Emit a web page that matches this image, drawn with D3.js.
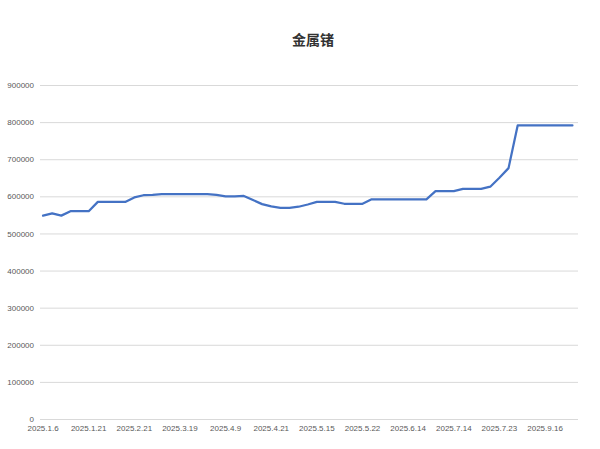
<!DOCTYPE html>
<html>
<head>
<meta charset="utf-8">
<script src="https://cdn.jsdelivr.net/npm/d3@7"></script>
<style>
  html, body { margin: 0; padding: 0; background: #ffffff; }
  svg { display: block; }
</style>
</head>
<body>
<svg id="chart" width="600" height="449"></svg>
<script>
// ---- data ----
const title = "金属锗";
const tickLabels = ["2025.1.6", "2025.1.21", "2025.2.21", "2025.3.19", "2025.4.9", "2025.4.21",
                    "2025.5.15", "2025.5.22", "2025.6.14", "2025.7.14", "2025.7.23", "2025.9.16"];
const labelEvery = 5;
const values = [
  548000, 554000, 548000, 560000, 560000, 560000, 585000, 585000, 585000, 585000,
  597000, 603000, 604000, 606000, 606000, 606000, 606000, 606000, 606000, 604000,
  600000, 600000, 601000, 590000, 579000, 573000, 569000, 569000, 572000, 578000,
  585000, 585000, 585000, 580000, 580000, 580000, 592000, 592000, 592000, 592000,
  592000, 592000, 592000, 614000, 614000, 614000, 620000, 620000, 620000, 626000,
  650000, 676000, 791000, 791000, 791000, 791000, 791000, 791000, 791000
];
const yTicks = [0, 100000, 200000, 300000, 400000, 500000, 600000, 700000, 800000, 900000];

// ---- layout ----
const svg = d3.select("#chart");
const plot = { left: 40, right: 578, top: 85, bottom: 419 };

const x = d3.scaleBand()
  .domain(values.map((d, i) => i))
  .range([38.5, 577])
  .paddingInner(0).paddingOuter(0);

const y = d3.scaleLinear().domain([0, 900000]).range([plot.bottom, plot.top]);

// title
svg.append("text")
  .attr("x", 313).attr("y", 45)
  .attr("text-anchor", "middle")
  .attr("font-family", "'Noto Sans CJK SC', sans-serif")
  .attr("font-weight", "bold")
  .attr("font-size", 14)
  .attr("fill", "#333333")
  .text(title);

// y axis with gridlines
const yAxis = svg.append("g")
  .attr("transform", `translate(${plot.left},0)`)
  .call(d3.axisLeft(y).tickValues(yTicks).tickSize(-(plot.right - plot.left)).tickPadding(6).tickFormat(d => String(d)));
yAxis.select(".domain").remove();
yAxis.selectAll(".tick line").attr("stroke", "#d9d9d9").attr("stroke-width", 1);
yAxis.selectAll(".tick text")
  .attr("fill", "#595959")
  .attr("font-family", "'Liberation Sans', Arial, sans-serif")
  .attr("font-size", 8);

// x axis
const xAxis = svg.append("g")
  .attr("transform", `translate(0,${plot.bottom})`)
  .call(d3.axisBottom(x)
    .tickValues(values.map((d, i) => i).filter(i => i % labelEvery === 0 && i / labelEvery < tickLabels.length))
    .tickSize(0).tickPadding(6)
    .tickFormat(i => tickLabels[i / labelEvery]));
xAxis.select(".domain").remove();
xAxis.selectAll(".tick text")
  .attr("fill", "#595959")
  .attr("font-family", "'Liberation Sans', Arial, sans-serif")
  .attr("font-size", 8);

// line
const line = d3.line()
  .x((d, i) => x(i) + x.bandwidth() / 2)
  .y(d => y(d));

svg.append("path")
  .datum(values)
  .attr("fill", "none")
  .attr("stroke", "#4472c4")
  .attr("stroke-width", 2.25)
  .attr("stroke-linejoin", "round")
  .attr("stroke-linecap", "round")
  .attr("d", line);
</script>
</body>
</html>
